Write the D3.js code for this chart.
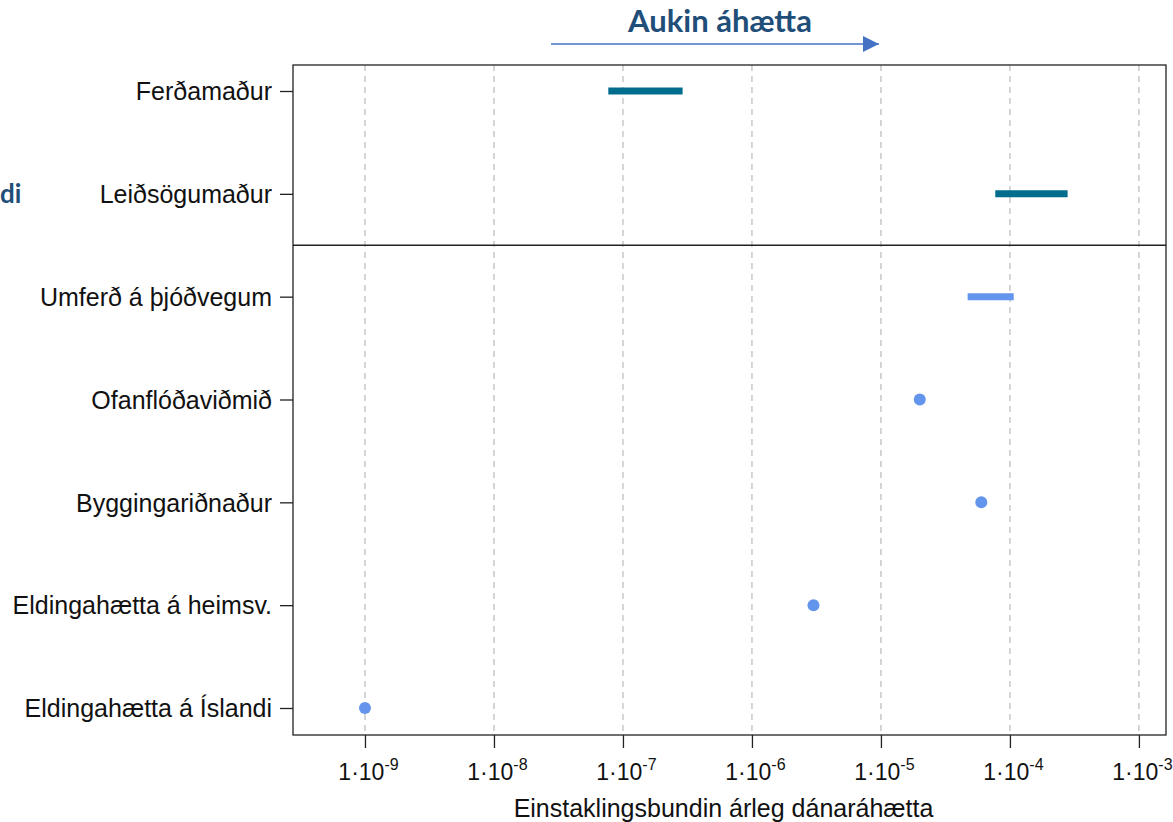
<!DOCTYPE html>
<html>
<head>
<meta charset="utf-8">
<style>
  body { margin: 0; background: #fff; }
  text { font-family: "Liberation Sans", Arial, sans-serif; }
</style>
</head>
<body>
<script src="https://cdn.jsdelivr.net/npm/d3@7"></script>
<script>
// categories top to bottom
var categories = ["Ferðamaður", "Leiðsögumaður", "Umferð á þjóðvegum", "Ofanflóðaviðmið",
                  "Byggingariðnaður", "Eldingahætta á heimsv.", "Eldingahætta á Íslandi"];
// ranges (low, high) for bar rows, null for points
var rangeLow  = [7.7e-8, 7.7e-5, 4.7e-5, null, null, null, null];
var rangeHigh = [2.9e-7, 2.8e-4, 1.07e-4, null, null, null, null];
var pointVal  = [null, null, null, 2e-5, 6e-5, 3e-6, 1e-9];
var tickExp = [-9, -8, -7, -6, -5, -4, -3];

var W = 1173, H = 822;
var m = {t: 65, r: 7, b: 87, l: 293};
var w = W - m.l - m.r, h = H - m.t - m.b;

var svg = d3.select("body").append("svg").attr("width", W).attr("height", H);
var g = svg.append("g").attr("transform", "translate(" + m.l + "," + m.t + ")");

var x = d3.scaleLog().domain([Math.pow(10, -9.558), Math.pow(10, -2.79)]).range([0, w]);
var y = d3.scalePoint().domain(categories).range([26, h - 27]);

// grid
g.selectAll(".grid").data(tickExp).enter().append("line")
  .attr("x1", function(d){ return x(Math.pow(10, d)); })
  .attr("x2", function(d){ return x(Math.pow(10, d)); })
  .attr("y1", 0).attr("y2", h)
  .attr("stroke", "#c8c8c8").attr("stroke-width", 1.5).attr("stroke-dasharray", "6,5");

// separator line between the two groups
var sepY = (y(categories[1]) + y(categories[2])) / 2;
g.append("line").attr("x1", 0).attr("x2", w).attr("y1", sepY).attr("y2", sepY)
  .attr("stroke", "#222").attr("stroke-width", 1.3);

// box
g.append("rect").attr("width", w).attr("height", h)
  .attr("fill", "none").attr("stroke", "#222").attr("stroke-width", 1.3);

// x axis
var xAxis = d3.axisBottom(x).tickValues(tickExp.map(function(e){ return Math.pow(10, e); }))
  .tickSize(13).tickFormat("");
var xa = g.append("g").attr("transform", "translate(0," + h + ")").call(xAxis);
xa.select(".domain").remove();
xa.selectAll("line").attr("stroke", "#222").attr("stroke-width", 1.3);
xa.selectAll(".tick").append("text")
  .attr("y", 45).attr("x", 3).attr("fill", "#111").attr("text-anchor", "middle")
  .style("font-size", "23px")
  .each(function(d){
    var t = d3.select(this);
    var e = Math.round(Math.log10(d));
    t.append("tspan").text("1·10");
    t.append("tspan").attr("dy", -10).style("font-size", "16px").text(e);
  });

// y axis
var yAxis = d3.axisLeft(y).tickSize(13).tickPadding(8);
var ya = g.append("g").call(yAxis);
ya.select(".domain").remove();
ya.selectAll("line").attr("stroke", "#222").attr("stroke-width", 1.3);
ya.selectAll("text").attr("fill", "#111").style("font-size", "25px")
  .attr("dy", "0.35em");

// bars
var bars = categories.map(function(c, i){ return {c: c, lo: rangeLow[i], hi: rangeHigh[i], i: i}; })
  .filter(function(d){ return d.lo !== null; });
g.selectAll(".bar").data(bars).enter().append("line")
  .attr("x1", function(d){ return x(d.lo); })
  .attr("x2", function(d){ return x(d.hi); })
  .attr("y1", function(d){ return y(d.c); })
  .attr("y2", function(d){ return y(d.c); })
  .attr("stroke", function(d){ return d.i < 2 ? "#006c8e" : "#6495ed"; })
  .attr("stroke-width", 7);

// points
var pts = categories.map(function(c, i){ return {c: c, v: pointVal[i]}; })
  .filter(function(d){ return d.v !== null; });
g.selectAll(".pt").data(pts).enter().append("circle")
  .attr("cx", function(d){ return x(d.v); })
  .attr("cy", function(d){ return y(d.c); })
  .attr("r", 6).attr("fill", "#6495ed");

// x axis title
svg.append("text").attr("x", m.l + w / 2 - 6).attr("y", 817)
  .attr("text-anchor", "middle").attr("fill", "#111").style("font-size", "25px")
  .text("Einstaklingsbundin árleg dánaráhætta");

// top annotation
svg.append("text").attr("x", 720).attr("y", 32).attr("text-anchor", "middle")
  .attr("fill", "#1f4e79").style("font-family", "Lato, 'Open Sans', sans-serif")
  .style("font-weight", "bold").style("font-size", "31px").text("Aukin áhætta");

svg.append("defs").append("marker").attr("id", "arr")
  .attr("viewBox", "0 0 10 10").attr("refX", 10).attr("refY", 5)
  .attr("markerWidth", 16).attr("markerHeight", 16).attr("markerUnits", "userSpaceOnUse")
  .attr("orient", "auto")
  .append("path").attr("d", "M0,0 L10,5 L0,10 Z").attr("fill", "#4472c4");
svg.append("line").attr("x1", 551).attr("x2", 879).attr("y1", 44).attr("y2", 44)
  .attr("stroke", "#4472c4").attr("stroke-width", 1.3).attr("marker-end", "url(#arr)");

// partial side label
svg.append("text").attr("x", 0).attr("y", 203).attr("fill", "#1f4e79")
  .style("font-family", "Lato, 'Open Sans', sans-serif")
  .style("font-weight", "bold").style("font-size", "26px").text("di");
</script>
</body>
</html>
